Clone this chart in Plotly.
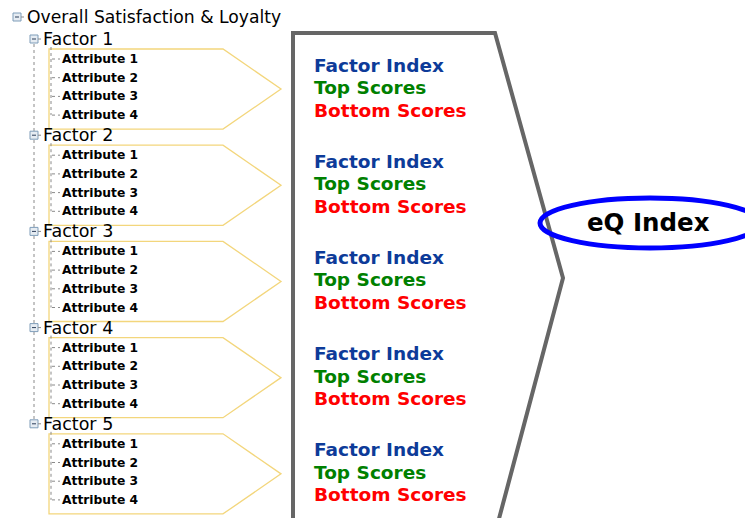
import plotly.graph_objects as go

# ---- content ----
root_label = "Overall Satisfaction & Loyalty"
factors = ["Factor 1", "Factor 2", "Factor 3", "Factor 4", "Factor 5"]
attributes = ["Attribute 1", "Attribute 2", "Attribute 3", "Attribute 4"]
metrics = ["Factor Index", "Top Scores", "Bottom Scores"]
metric_colors = ["#0D3B99", "#008000", "#FF0000"]
result_label = "eQ Index"

W, H = 753, 518
OFF = 8  # page body margin
fig = go.Figure()
shapes = []
ann = []

def text(x, y, s, size, color="#000", family="DejaVu Sans", bold=False, xanchor="left"):
    ann.append(dict(x=x, y=y, xref="x", yref="y", text=("<b>%s</b>" % s) if bold else s,
                    showarrow=False, xanchor=xanchor, yanchor="middle",
                    font=dict(size=size, color=color, family=family), borderpad=0))

def dotted(x0, y0, x1, y1):
    shapes.append(dict(type="line", x0=x0, y0=y0, x1=x1, y1=y1, xref="x", yref="y",
                       line=dict(color="#8A8A8A", width=1, dash="dot")))

def icon(cx, cy):
    shapes.append(dict(type="rect", x0=cx - 4, y0=cy - 4, x1=cx + 4, y1=cy + 4, xref="x", yref="y",
                       fillcolor="#E6ECF2", line=dict(color="#7F9DB9", width=1)))
    shapes.append(dict(type="line", x0=cx - 2, y0=cy, x1=cx + 2, y1=cy, xref="x", yref="y",
                       line=dict(color="#2B3E5B", width=1)))

# root
icon(17, 17)
dotted(21, 17, 26, 17)
text(26, 17, root_label, 17.2)

step = 96.2
first_factor_y = 39
dotted(34, 44, 34, first_factor_y + step * (len(factors) - 1) - 4)

for i, f in enumerate(factors):
    fy = first_factor_y + step * i
    icon(34, fy)
    dotted(38, fy, 42, fy)
    text(42, fy, f, 17.5)
    ay = [fy + 20 + 18.7 * j for j in range(len(attributes))]
    top = ay[0] - 10
    bot = ay[-1] + 14
    mid = (top + bot) / 2
    path = "M 49 %f L 223 %f L 281 %f L 223 %f L 49 %f Z" % (top, top, mid, bot, bot)
    shapes.append(dict(type="path", path=path, xref="x", yref="y",
                       line=dict(color="#F3D67C", width=1.3)))
    dotted(51, fy + 8, 51, ay[-1])
    for j, a in enumerate(attributes):
        dotted(52, ay[j], 60, ay[j])
        text(61, ay[j], a, 12.3, bold=True)
    my = fy + 26
    for k, (m, c) in enumerate(zip(metrics, metric_colors)):
        text(313, my + 22.5 * k, m, 18.5, color=c, family="DejaVu Sans", bold=True)

# grey chevron
shapes.append(dict(type="path", path="M 293 530 L 293 33 L 495 33 L 563 278 L 496 530",
                   xref="x", yref="y", line=dict(color="#666666", width=4)))

# eQ index ellipse
shapes.append(dict(type="circle", x0=540, y0=198, x1=760, y1=248, xref="x", yref="y",
                   line=dict(color="#0000FF", width=5), fillcolor="rgba(255,255,255,0)"))
text(648, 222, result_label, 24.5, family="DejaVu Sans", bold=True, xanchor="center")

fig.update_layout(width=W - OFF, height=H - OFF, margin=dict(l=0, r=0, t=0, b=0),
                  paper_bgcolor="white", plot_bgcolor="white",
                  xaxis=dict(range=[OFF, W], visible=False, fixedrange=True),
                  yaxis=dict(range=[H, OFF], visible=False, fixedrange=True),
                  shapes=shapes, annotations=ann, showlegend=False)
fig.write_html("out.html")
